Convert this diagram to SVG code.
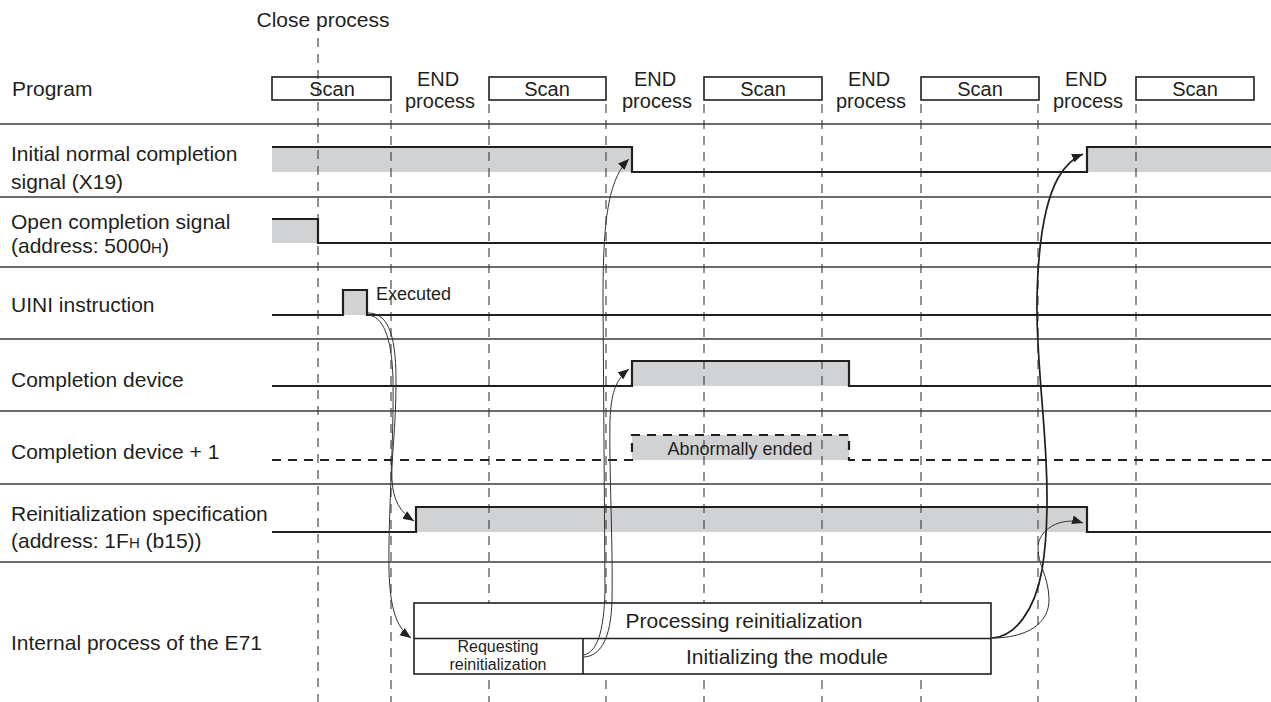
<svg xmlns="http://www.w3.org/2000/svg" width="1271" height="702" viewBox="0 0 1271 702">
<style>
text{font-family:"Liberation Sans",Arial,sans-serif;fill:#231f20}
.lbl{font-size:21px}
.prg{font-size:20px;text-anchor:middle}
.sm{font-size:18px}
.xs{font-size:16px;text-anchor:middle}
.mid{text-anchor:middle}
.sep{stroke:#3a3a3a;stroke-width:1.3;fill:none}
.vd{stroke:#3a3a3a;stroke-width:1.1;stroke-dasharray:9 7;fill:none}
.sig{stroke:#231f20;stroke-width:2.2;fill:none}
.sigd{stroke:#231f20;stroke-width:2.2;stroke-dasharray:9 7;fill:none}
.fill{fill:#d1d2d4;stroke:none}
.box{fill:#fff;stroke:#231f20;stroke-width:1.6}
.cv{stroke:#333;stroke-width:1;fill:none;marker-end:url(#ah)}
.cvb{stroke:#231f20;stroke-width:1.7;fill:none;marker-end:url(#ah)}
</style>
<defs>
<marker id="ah" markerUnits="userSpaceOnUse" markerWidth="12" markerHeight="10" refX="11" refY="4.5" orient="auto">
<path d="M0,0 L11,4.5 L0,9 z" fill="#231f20"/>
</marker>
</defs>
<rect width="1271" height="702" fill="#fff"/>

<g id="separators">
<line class="sep" x1="0" y1="124" x2="1271" y2="124"/>
<line class="sep" x1="0" y1="197" x2="1271" y2="197"/>
<line class="sep" x1="0" y1="267" x2="1271" y2="267"/>
<line class="sep" x1="0" y1="339" x2="1271" y2="339"/>
<line class="sep" x1="0" y1="411" x2="1271" y2="411"/>
<line class="sep" x1="0" y1="484" x2="1271" y2="484"/>
<line class="sep" x1="0" y1="562" x2="1271" y2="562"/>
</g>

<g id="fills">
<rect class="fill" x="272" y="147" width="360" height="25"/>
<rect class="fill" x="1087" y="147" width="184" height="25"/>
<rect class="fill" x="272" y="219" width="46" height="24"/>
<rect class="fill" x="343" y="290" width="24" height="25"/>
<rect class="fill" x="632" y="361" width="217" height="25"/>
<rect class="fill" x="632" y="435" width="217" height="25"/>
<rect class="fill" x="416" y="507" width="671" height="25"/>
</g>

<g id="gridlines">
<line class="vd" x1="318" y1="38" x2="318" y2="702"/>
<line class="vd" x1="391" y1="104" x2="391" y2="702"/>
<line class="vd" x1="489" y1="104" x2="489" y2="702"/>
<line class="vd" x1="606" y1="104" x2="606" y2="702"/>
<line class="vd" x1="704" y1="104" x2="704" y2="702"/>
<line class="vd" x1="822" y1="104" x2="822" y2="702"/>
<line class="vd" x1="921" y1="104" x2="921" y2="702"/>
<line class="vd" x1="1038" y1="104" x2="1038" y2="702"/>
<line class="vd" x1="1136" y1="104" x2="1136" y2="702"/>
</g>

<g id="close-process">
<text class="lbl mid" x="323" y="27">Close process</text>
</g>

<g id="program">
<text class="lbl" x="12" y="96">Program</text>
<rect class="box" x="272" y="77" width="119" height="23" fill="none" style="fill:none"/>
<text class="prg" x="332" y="96">Scan</text>
<text class="prg" x="438" y="86">END</text>
<text class="prg" x="440" y="108">process</text>
<rect class="box" x="489" y="77" width="117" height="23" style="fill:none"/>
<text class="prg" x="547" y="96">Scan</text>
<text class="prg" x="655" y="86">END</text>
<text class="prg" x="657" y="108">process</text>
<rect class="box" x="704" y="77" width="118" height="23" style="fill:none"/>
<text class="prg" x="763" y="96">Scan</text>
<text class="prg" x="869" y="86">END</text>
<text class="prg" x="871" y="108">process</text>
<rect class="box" x="921" y="77" width="118" height="23" style="fill:none"/>
<text class="prg" x="980" y="96">Scan</text>
<text class="prg" x="1086" y="86">END</text>
<text class="prg" x="1088" y="108">process</text>
<rect class="box" x="1136" y="77" width="118" height="23" style="fill:none"/>
<text class="prg" x="1195" y="96">Scan</text>
</g>

<g id="initial-normal">
<text class="lbl" x="11" y="161">Initial normal completion</text>
<text class="lbl" x="11" y="189">signal (X19)</text>
<path class="sig" d="M272,147 H632 V172 H1087 V147 H1271"/>
</g>

<g id="open-completion">
<text class="lbl" x="11" y="229">Open completion signal</text>
<text class="lbl" x="11" y="253">(address: 5000<tspan font-size="15">H</tspan>)</text>
<path class="sig" d="M272,219 H318 V243 H1271"/>
</g>

<g id="uini">
<text class="lbl" x="11" y="312">UINI instruction</text>
<path class="sig" d="M272,315 H343 V290 H367 V315 H1271"/>
<text class="sm" x="376" y="300">Executed</text>
</g>

<g id="completion-device">
<text class="lbl" x="11" y="387">Completion device</text>
<path class="sig" d="M272,386 H632 V361 H849 V386 H1271"/>
</g>

<g id="completion-device-1">
<text class="lbl" x="11" y="459">Completion device + 1</text>
<path class="sigd" d="M272,460 H632 V435 H849 V460 H1271"/>
<text class="sm mid" x="740" y="455">Abnormally ended</text>
</g>

<g id="reinit-spec">
<text class="lbl" x="11" y="521">Reinitialization specification</text>
<text class="lbl" x="11" y="548">(address: 1F<tspan font-size="15">H</tspan> (b15))</text>
<path class="sig" d="M272,532 H416 V507 H1087 V532 H1271"/>
</g>

<g id="internal-process">
<text class="lbl" x="11" y="650">Internal process of the E71</text>
<rect class="box" x="414" y="603" width="577" height="71"/>
<line class="sig" x1="414" y1="638.5" x2="991" y2="638.5" style="stroke-width:1.6"/>
<line class="sig" x1="583" y1="638.5" x2="583" y2="674" style="stroke-width:1.6"/>
<text class="lbl mid" x="744" y="628">Processing reinitialization</text>
<text class="xs" x="498" y="652">Requesting</text>
<text class="xs" x="498" y="670">reinitialization</text>
<text class="lbl mid" x="787" y="664">Initializing the module</text>
</g>

<g id="connectors">
<path class="cv" d="M368,313 C386,313 396,330 396,380 C396,430 391,460 392,480 C393,500 400,512 414,521"/>
<path class="cv" d="M368,315 C382,316 392,335 393,380 C394,440 388,520 389,570 C390,610 397,628 411,638"/>
<path class="cv" d="M584,657 C600,656 611,640 612,600 C613,540 609,470 610,420 C611,395 615,380 629,369"/>
<path class="cv" d="M584,655 C596,652 604,635 605,590 L603,300 C603,220 608,180 629,159"/>
<path class="cvb" d="M992,638 C1015,637 1035,610 1042,570 C1047,540 1048,500 1046,460 C1043,400 1036,350 1037,300 C1038,240 1046,200 1058,178 C1065,166 1073,158 1083,154"/>
<path class="cv" d="M992,638 C1025,638 1050,625 1049,598 C1048,575 1038,565 1038,548 C1038,530 1060,516 1083,523"/>
</g>
</svg>
